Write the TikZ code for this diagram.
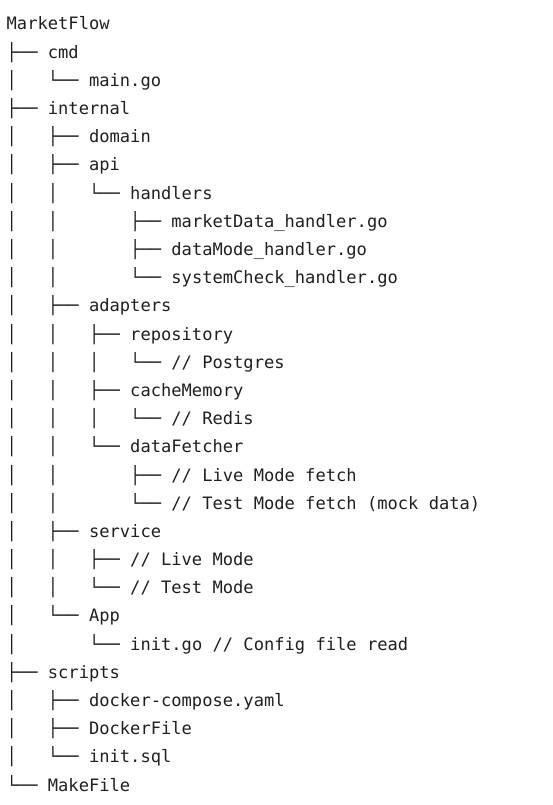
\documentclass[tikz,border=0pt]{standalone}
\usepackage{fontspec}
\setmonofont{DejaVu Sans Mono}

\tikzset{treeline/.style={anchor=base west, inner sep=0pt, text=black!88,
    font=\ttfamily\fontsize{17.1}{20}\selectfont}}

\begin{document}
\begin{tikzpicture}[x=1pt,y=1pt] % 1 unit = 1 pixel of the reference
    % Fix the page size
    \useasboundingbox (0,0) rectangle (552,-805);

    % Root folder
    \node[treeline] (root) at (6.5,-30) {MarketFlow};

    % cmd
    \node[treeline] (cmd) at (6.5,-58.19) {├──~cmd};
    \node[treeline] (maingo) at (6.5,-86.38) {│~~~└──~main.go};

    % internal
    \node[treeline] (internal) at (6.5,-114.57) {├──~internal};
    \node[treeline] (domain) at (6.5,-142.76) {│~~~├──~domain};
    \node[treeline] (api) at (6.5,-170.95) {│~~~├──~api};
    \node[treeline] (handlers) at (6.5,-199.14) {│~~~│~~~└──~handlers};
    \node[treeline] (marketdata) at (6.5,-227.33) {│~~~│~~~~~~~├──~marketData\_handler.go};
    \node[treeline] (datamode) at (6.5,-255.52) {│~~~│~~~~~~~├──~dataMode\_handler.go};
    \node[treeline] (systemcheck) at (6.5,-283.71) {│~~~│~~~~~~~└──~systemCheck\_handler.go};
    \node[treeline] (adapters) at (6.5,-311.9) {│~~~├──~adapters};
    \node[treeline] (repository) at (6.5,-340.09) {│~~~│~~~├──~repository};
    \node[treeline] (postgres) at (6.5,-368.28) {│~~~│~~~│~~~└──~//~Postgres};
    \node[treeline] (cachememory) at (6.5,-396.47) {│~~~│~~~├──~cacheMemory};
    \node[treeline] (redis) at (6.5,-424.66) {│~~~│~~~│~~~└──~//~Redis};
    \node[treeline] (datafetcher) at (6.5,-452.85) {│~~~│~~~└──~dataFetcher};
    \node[treeline] (livefetch) at (6.5,-481.04) {│~~~│~~~~~~~├──~//~Live~Mode~fetch};
    \node[treeline] (testfetch) at (6.5,-509.23) {│~~~│~~~~~~~└──~//~Test~Mode~fetch~(mock~data)};
    \node[treeline] (service) at (6.5,-537.42) {│~~~├──~service};
    \node[treeline] (livemode) at (6.5,-565.61) {│~~~│~~~├──~//~Live~Mode};
    \node[treeline] (testmode) at (6.5,-593.8) {│~~~│~~~└──~//~Test~Mode};
    \node[treeline] (app) at (6.5,-621.99) {│~~~└──~App};
    \node[treeline] (initgo) at (6.5,-650.18) {│~~~~~~~└──~init.go~//~Config~file~read};

    % scripts
    \node[treeline] (scripts) at (6.5,-678.37) {├──~scripts};
    \node[treeline] (compose) at (6.5,-706.56) {│~~~├──~docker-compose.yaml};
    \node[treeline] (dockerfile) at (6.5,-734.75) {│~~~├──~DockerFile};
    \node[treeline] (initsql) at (6.5,-762.94) {│~~~└──~init.sql};

    % MakeFile
    \node[treeline] (makefile) at (6.5,-791.13) {└──~MakeFile};
\end{tikzpicture}
\end{document}
